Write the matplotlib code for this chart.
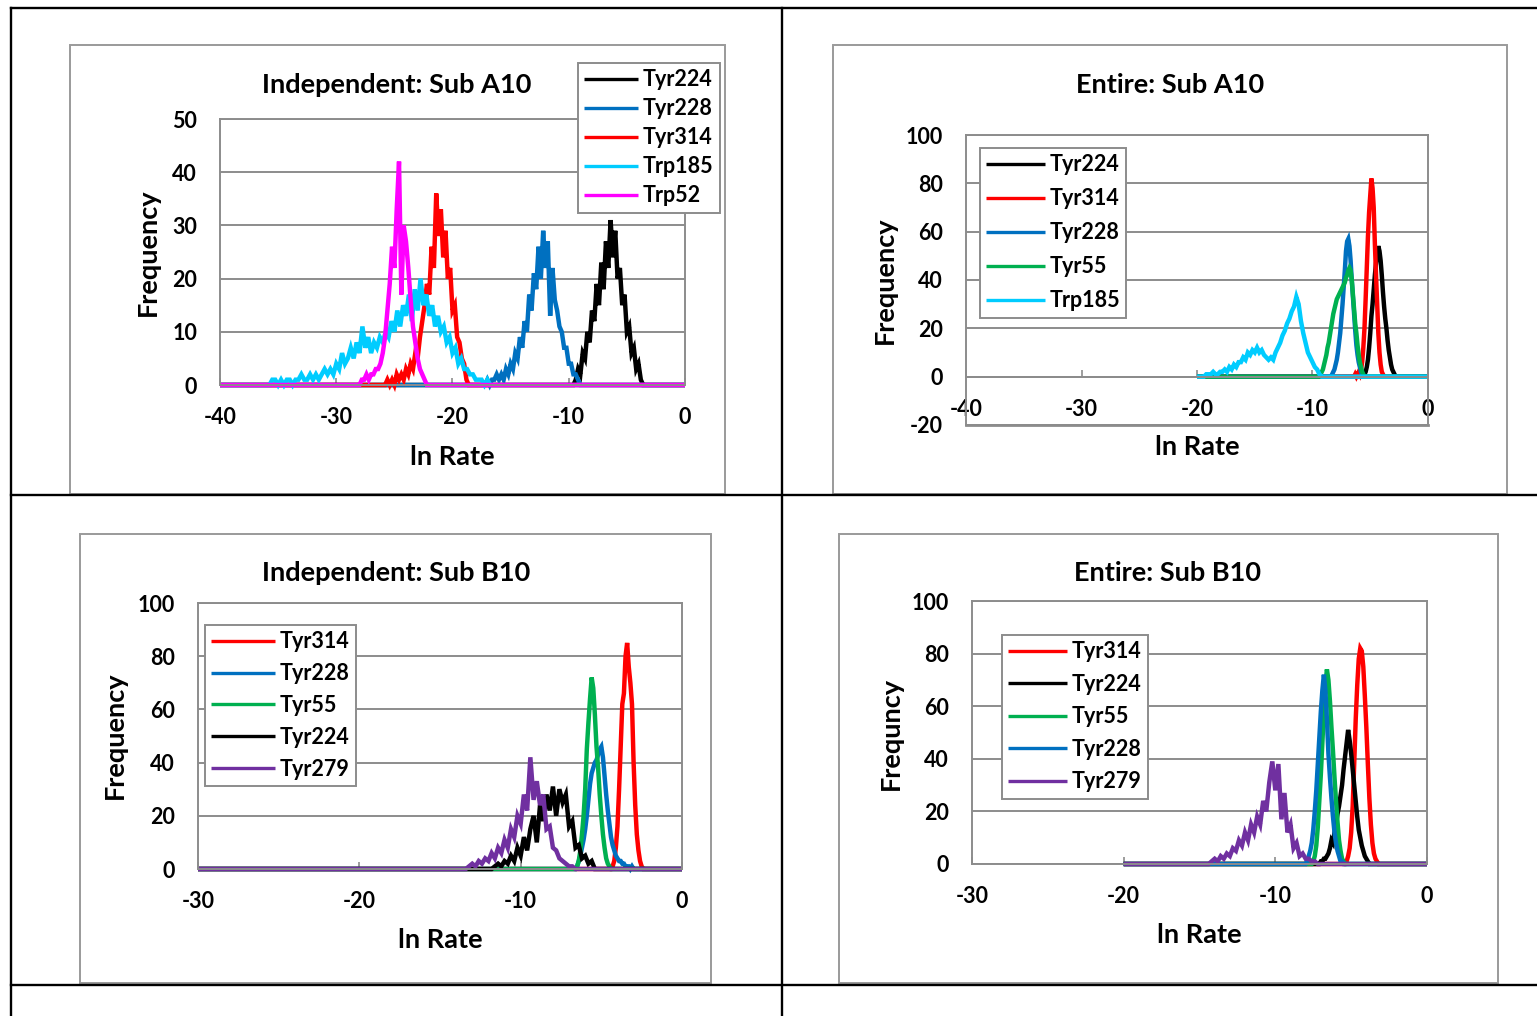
import numpy as np
import matplotlib
matplotlib.use("Agg")
import matplotlib.pyplot as plt
from matplotlib.lines import Line2D
from matplotlib.patches import Rectangle

plt.rcParams["font.family"] = ["Lato", "DejaVu Sans"]
plt.rcParams["font.weight"] = "bold"
plt.rcParams["axes.unicode_minus"] = False

W, H = 1537, 1016

# ======================= DATA =======================
# --- Independent: Sub A10 (histogram bins: first bin, bin step, counts) ---
ia_labels = ["Tyr224", "Tyr228", "Tyr314", "Trp185", "Trp52"]
ia_first = [-9.4, -17.0, -25.8, -35.75, -28.0]
ia_step = [0.2, 0.2, 0.2, 0.25, 0.2]
ia_tyr224 = [1, 3, 2, 6, 5, 10, 8, 14, 12, 19, 15, 23, 18, 27, 22, 31, 24, 29, 20, 22,
             15, 17, 10, 11, 6, 7, 3, 4, 1, 0]
ia_tyr228 = [1, 0, 1, 1, 2, 1, 2, 1, 3, 2, 4, 3, 6, 5, 9, 7, 12, 10, 17, 14,
             21, 18, 26, 20, 29, 22, 27, 13, 22, 16, 14, 11, 10, 7, 7, 4, 4, 2, 2, 1, 0]
ia_tyr314 = [0, 1, 0, 1, 0, 2, 1, 2, 1, 3, 2, 4, 3, 6, 5, 9, 12, 15, 19, 17,
             26, 22, 36, 28, 33, 24, 29, 20, 22, 14, 15, 9, 8, 5, 4, 1, 0]
ia_trp185 = [0, 1, 1, 0, 1, 0, 1, 1, 0, 1, 1, 2, 1, 1, 2, 1, 2, 1, 2, 3,
             2, 3, 2, 4, 3, 6, 4, 5, 7, 5, 8, 6, 11, 7, 9, 6, 8, 7, 9, 8,
             10, 9, 12, 10, 14, 11, 15, 13, 17, 12, 18, 14, 20, 15, 17, 13, 15, 11, 13, 10,
             11, 8, 9, 6, 7, 4, 5, 3, 3, 2, 2, 1, 1, 1, 0, 1]
ia_trp52 = [0, 1, 1, 2, 1, 2, 2, 3, 3, 4, 6, 9, 14, 19, 26, 22, 33, 42, 17, 30,
            27, 22, 16, 11, 8, 5, 3, 2, 1, 0]
ia_counts = [ia_tyr224, ia_tyr228, ia_tyr314, ia_trp185, ia_trp52]
ia_span = (-40, 0)

# --- Entire: Sub A10 ---
ea_labels = ["Tyr224", "Tyr314", "Tyr228", "Tyr55", "Trp185"]
ea_first = [-5.6, -6.4, -8.4, -9.4, -19.4]
ea_step = [0.1, 0.1, 0.1, 0.1, 0.2]
ea_tyr224 = [0, 1, 2, 4, 7, 12, 18, 25, 30, 36, 42, 47, 51, 54, 52, 48, 42, 35, 29, 24,
             20, 15, 11, 8, 5, 3, 2, 1, 0]
ea_tyr314 = [0, 1, 0, 1, 2, 1, 3, 6, 12, 20, 32, 45, 58, 68, 75, 82, 78, 70, 55, 42,
             30, 18, 10, 5, 2, 1, 0]
ea_tyr228 = [0, 1, 2, 3, 5, 7, 10, 14, 18, 24, 30, 37, 44, 52, 56, 57, 54, 48, 40, 33,
             26, 19, 13, 9, 6, 4, 2, 1, 0]
ea_tyr55 = [0, 1, 2, 3, 5, 7, 9, 12, 14, 17, 20, 23, 26, 28, 30, 32, 33, 34, 35, 36,
            37, 38, 39, 41, 42, 44, 45, 44, 40, 34, 28, 22, 18, 13, 9, 6, 4, 2, 1, 0]
ea_trp185 = [0, 1, 1, 1, 2, 1, 1, 2, 2, 3, 2, 4, 3, 5, 4, 6, 6, 8, 7, 10,
             9, 11, 10, 12, 10, 11, 9, 8, 7, 8, 7, 10, 12, 14, 17, 19, 22, 24, 27, 29,
             33, 30, 23, 18, 14, 10, 8, 6, 4, 3, 1, 0]
ea_counts = [ea_tyr224, ea_tyr314, ea_tyr228, ea_tyr55, ea_trp185]
ea_span = (-20, 0)

# --- Independent: Sub B10 ---
ib_labels = ["Tyr314", "Tyr228", "Tyr55", "Tyr224", "Tyr279"]
ib_first = [-4.4, -6.6, -6.6, -11.8, -13.4]
ib_step = [0.1, 0.1, 0.1, 0.2, 0.2]
ib_tyr314 = [0, 1, 3, 8, 16, 30, 46, 62, 66, 80, 85, 76, 70, 62, 40, 24, 13, 7, 3, 1, 0]
ib_tyr228 = [0, 1, 3, 5, 8, 11, 15, 20, 26, 32, 36, 38, 40, 41, 43, 45, 46, 42, 35, 28,
             22, 17, 12, 9, 7, 5, 4, 3, 3, 2, 2, 1, 1, 1, 0, 1, 0]
ib_tyr55 = [0, 1, 3, 7, 13, 20, 30, 45, 55, 64, 72, 68, 58, 46, 38, 28, 20, 13, 8, 4, 2, 1, 0]
ib_tyr224 = [0, 1, 2, 1, 3, 2, 5, 3, 8, 5, 12, 7, 15, 20, 10, 24, 18, 28, 22, 31,
             20, 30, 25, 28, 16, 18, 8, 9, 4, 5, 2, 3, 0]
ib_tyr279 = [0, 1, 2, 1, 3, 2, 4, 3, 6, 4, 8, 6, 11, 8, 15, 12, 20, 17, 28, 22,
             42, 26, 33, 24, 28, 15, 16, 8, 7, 4, 3, 2, 1, 1, 0]
ib_counts = [ib_tyr314, ib_tyr228, ib_tyr55, ib_tyr224, ib_tyr279]
ib_span = (-30, 0)

# --- Entire: Sub B10 ---
eb_labels = ["Tyr314", "Tyr224", "Tyr55", "Tyr228", "Tyr279"]
eb_first = [-5.4, -7.1, -7.6, -8.0, -14.4]
eb_step = [0.1, 0.1, 0.1, 0.1, 0.2]
eb_tyr314 = [0, 1, 3, 6, 12, 22, 38, 55, 68, 78, 82, 81, 75, 64, 52, 38, 25, 15, 8, 4, 2, 1, 0]
eb_tyr224 = [0, 1, 1, 2, 2, 3, 4, 6, 9, 8, 12, 15, 19, 22, 26, 30, 36, 41, 46, 51,
             47, 42, 36, 30, 24, 18, 13, 10, 7, 5, 3, 2, 1, 0]
eb_tyr55 = [0, 1, 3, 7, 14, 24, 34, 46, 58, 68, 74, 70, 62, 52, 43, 33, 24, 16, 9, 5, 2, 1, 0]
eb_tyr228 = [0, 1, 3, 5, 8, 13, 20, 28, 38, 48, 58, 66, 72, 66, 55, 42, 33, 25, 18, 12,
             8, 5, 3, 1, 1, 0]
eb_tyr279 = [0, 1, 2, 1, 3, 2, 4, 3, 6, 5, 9, 7, 12, 9, 15, 12, 18, 15, 24, 20,
             31, 39, 28, 38, 17, 27, 12, 15, 6, 8, 3, 4, 2, 2, 1, 1, 0]
eb_counts = [eb_tyr314, eb_tyr224, eb_tyr55, eb_tyr228, eb_tyr279]
eb_span = (-20, 0)

# axis tick labels
ia_xticks = [-40, -30, -20, -10, 0]
ia_yticks = [0, 10, 20, 30, 40, 50]
ea_xticks = [-40, -30, -20, -10, 0]
ea_yticks = [-20, 0, 20, 40, 60, 80, 100]
ib_xticks = [-30, -20, -10, 0]
ib_yticks = [0, 20, 40, 60, 80, 100]
eb_xticks = [-30, -20, -10, 0]
eb_yticks = [0, 20, 40, 60, 80, 100]

# ======================= STYLE =======================
COL = {"Tyr224": "#000000", "Tyr228": "#0070C0", "Tyr314": "#FF0000",
       "Trp185": "#00CCFF", "Trp52": "#FF00FF", "Tyr55": "#00B050",
       "Tyr279": "#7030A0"}
GRAY = "#8C8C8C"
LW = 3.2
FS_TICK = 15.5
FS_LEG = 15.5
FS_TITLE = 19.5
FS_LAB = 19.5

fig = plt.figure(figsize=(W / 100, H / 100), dpi=100)


def fx(x):
    return x / W


def fy(y):
    return 1 - y / H


def pbox(x0, y0, x1, y1):
    return [fx(x0), fy(y1), (x1 - x0) / W, (y1 - y0) / H]


def fig_line(x0, y0, x1, y1, **kw):
    fig.add_artist(Line2D([fx(x0), fx(x1)], [fy(y0), fy(y1)],
                          transform=fig.transFigure, **kw))


def frame(x0, y0, x1, y1):
    fig.add_artist(Rectangle((fx(x0), fy(y1)), (x1 - x0) / W, (y1 - y0) / H,
                             transform=fig.transFigure, fill=False,
                             ec="#9A9A9A", lw=1.4, zorder=0))


def chart(box, labels, firsts, steps, counts, span, xticks, yticks,
          title, title_xy, ylab, ylab_xy, xlab_xy, leg_xy, leg_space, leg_hl,
          zero_axis=False):
    ax = fig.add_axes(pbox(*box))
    ax.set_xlim(xticks[0], xticks[-1])
    ax.set_ylim(yticks[0], yticks[-1])
    if zero_axis:
        # the category (x) axis crosses the value axis at 0
        ax.spines["bottom"].set_position(("data", 0))
    for lab, x0, st, cnt in zip(labels, firsts, steps, counts):
        cnt = np.asarray(cnt, dtype=float)
        xs = x0 + st * np.arange(len(cnt))
        # empty bins on both sides of the occupied range, then the rest of the range
        xs = np.concatenate([[span[0], x0 - st], xs, [xs[-1] + st, span[1]]])
        ys = np.concatenate([[0.0, 0.0], cnt, [0.0, 0.0]])
        ax.plot(xs, ys, color=COL[lab], lw=LW, label=lab, clip_on=False,
                solid_joinstyle="miter", solid_capstyle="butt")
    ax.set_xlim(xticks[0], xticks[-1])
    ax.set_ylim(yticks[0], yticks[-1])
    ax.set_xticks(xticks)
    ax.set_xticklabels([str(v) for v in xticks])
    ax.set_yticks(yticks)
    ax.set_yticklabels([str(v) for v in yticks])
    ax.set_axisbelow(True)
    ax.grid(axis="y", color=GRAY, lw=1.4)
    ax.grid(axis="x", visible=False)
    for s in ax.spines.values():
        s.set_color(GRAY)
        s.set_linewidth(1.4)
    ax.tick_params(axis="y", length=0, pad=16.5, labelsize=FS_TICK)
    ax.tick_params(axis="x", direction="in", length=5, width=1.2,
                   color=GRAY, pad=16, labelsize=FS_TICK)
    if zero_axis:
        ax.axhline(yticks[0], color=GRAY, lw=2.0, clip_on=False, zorder=0.5)
    fig.text(fx(title_xy[0]), fy(title_xy[1]), title, ha="center", va="center",
             fontsize=FS_TITLE, fontweight="bold")
    fig.text(fx(ylab_xy[0]), fy(ylab_xy[1]), ylab, ha="center", va="center",
             rotation=90, fontsize=FS_LAB, fontweight="bold")
    fig.text(fx(xlab_xy[0]), fy(xlab_xy[1]), "ln Rate", ha="center", va="center",
             fontsize=FS_LAB, fontweight="bold")
    leg = ax.legend(loc="upper left", bbox_to_anchor=(fx(leg_xy[0]), fy(leg_xy[1])),
                    bbox_transform=fig.transFigure, borderaxespad=0,
                    fancybox=False, edgecolor=GRAY, framealpha=1,
                    fontsize=FS_LEG, handlelength=leg_hl, handletextpad=0.22,
                    borderpad=0.3, labelspacing=leg_space)
    leg.get_frame().set_linewidth(1.4)
    for h in leg.get_lines():
        h.set_linewidth(2.4)
    return ax


# chart frames
frame(70, 45, 725, 494)
frame(833, 45, 1507, 494)
frame(80, 534, 711, 983)
frame(839, 534, 1498, 983)

chart((220, 119, 685, 385), ia_labels, ia_first, ia_step, ia_counts, ia_span,
      ia_xticks, ia_yticks, "Independent: Sub A10", (397, 85), "Frequency", (148, 252),
      (452, 457), (578, 63), 0.37, 2.5)
chart((966, 135, 1428, 425), ea_labels, ea_first, ea_step, ea_counts, ea_span,
      ea_xticks, ea_yticks, "Entire: Sub A10", (1170, 85), "Frequency", (885, 280),
      (1197, 447), (980, 148), 0.6, 2.7, zero_axis=True)
chart((198, 603, 682, 869), ib_labels, ib_first, ib_step, ib_counts, ib_span,
      ib_xticks, ib_yticks, "Independent: Sub B10", (396, 573), "Frequency", (115, 735),
      (440, 940), (205, 625), 0.5, 2.95)
chart((972, 601, 1427, 864), eb_labels, eb_first, eb_step, eb_counts, eb_span,
      eb_xticks, eb_yticks, "Entire: Sub B10", (1168, 573), "Frequncy", (891, 733),
      (1199, 935), (1002, 635), 0.53, 2.7)

# table grid lines
TBL = dict(color="black", lw=1.7, zorder=10)
fig_line(11, 8, 11, 1016, **TBL)
fig_line(782, 8, 782, 1016, **TBL)
fig_line(11, 8, 1537, 8, **TBL)
fig_line(11, 495, 1537, 495, **TBL)
fig_line(11, 985, 1537, 985, **TBL)

fig.savefig("out.png", dpi=100, facecolor="white")
